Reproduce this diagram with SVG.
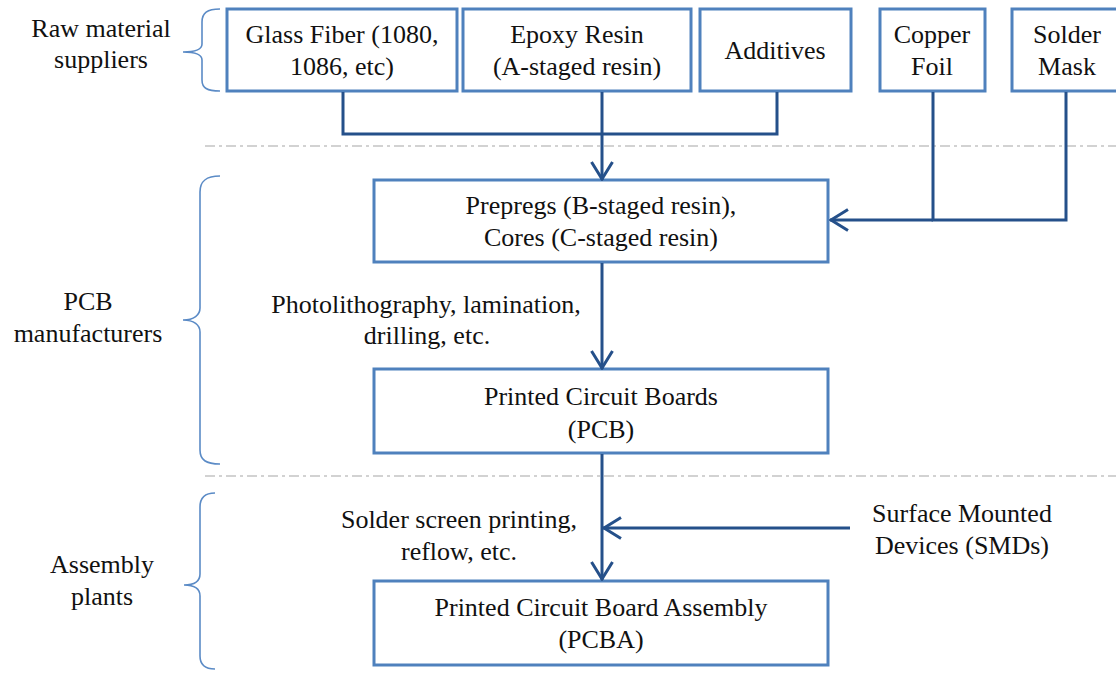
<svg xmlns="http://www.w3.org/2000/svg" width="1116" height="674" viewBox="0 0 1116 674">
  <defs>
    <style>
      .box { fill: #ffffff; stroke: #4F81BD; stroke-width: 3; }
      .lbl { font-family: "Liberation Serif", "Times New Roman", serif; font-size: 26px; fill: #111111; text-anchor: middle; }
      .con { fill: none; stroke: #25508A; stroke-width: 3; }
      .brace { fill: none; stroke: #5B8BC6; stroke-width: 1.6; }
      .sep { stroke: #C4C4C4; stroke-width: 1.5; stroke-dasharray: 10 4 3 4; }
    </style>
    <marker id="arr" viewBox="0 0 20 24" refX="19" refY="12" markerWidth="20" markerHeight="24" markerUnits="userSpaceOnUse" orient="auto">
      <path d="M1,1.5 L18,12 L1,22.5" fill="none" stroke="#25508A" stroke-width="3"/>
    </marker>
  </defs>
  <rect width="1116" height="674" fill="#ffffff"/>

  <!-- section separators -->
  <line class="sep" x1="205" y1="146" x2="1116" y2="146"/>
  <line class="sep" x1="205" y1="476" x2="1116" y2="476"/>

  <!-- stage labels with braces -->
  <g id="stage-raw">
    <text class="lbl" x="101" y="37">Raw material</text>
    <text class="lbl" x="101" y="68">suppliers</text>
    <path class="brace" d="M220,9 C207,9 202,13 202,22 L202,44 C202,49 196,52 183,52 C196,52 202,55 202,60 L202,80 C202,88 207,91 220,91"/>
  </g>
  <g id="stage-pcb">
    <text class="lbl" x="88" y="310">PCB</text>
    <text class="lbl" x="88" y="342">manufacturers</text>
    <path class="brace" d="M220,176 C206,176 200,181 200,192 L200,308 C200,315 194,320 183,320 C194,320 200,325 200,332 L200,450 C200,460 206,464 220,464"/>
  </g>
  <g id="stage-assembly">
    <text class="lbl" x="102" y="573">Assembly</text>
    <text class="lbl" x="102" y="605">plants</text>
    <path class="brace" d="M215,493 C205,493 200,497 200,507 L200,574 C200,581 195,585 184,585 C195,585 200,589 200,596 L200,656 C200,665 205,669 215,669"/>
  </g>

  <!-- raw materials -->
  <g id="glass-fiber">
    <rect class="box" x="227" y="9" width="230" height="82"/>
    <text class="lbl" x="342" y="43">Glass Fiber (1080,</text>
    <text class="lbl" x="342" y="75">1086,  etc)</text>
  </g>
  <g id="epoxy-resin">
    <rect class="box" x="463" y="9" width="228" height="82"/>
    <text class="lbl" x="577" y="43">Epoxy Resin</text>
    <text class="lbl" x="577" y="75">(A-staged resin)</text>
  </g>
  <g id="additives">
    <rect class="box" x="700" y="9" width="151" height="82"/>
    <text class="lbl" x="775" y="59">Additives</text>
  </g>
  <g id="copper-foil">
    <rect class="box" x="880" y="9" width="105" height="82"/>
    <text class="lbl" x="932" y="43">Copper</text>
    <text class="lbl" x="932" y="75">Foil</text>
  </g>
  <g id="solder-mask">
    <rect class="box" x="1012" y="9" width="110" height="82"/>
    <text class="lbl" x="1067" y="43">Solder</text>
    <text class="lbl" x="1067" y="75">Mask</text>
  </g>

  <!-- manufacturing -->
  <g id="prepregs">
    <rect class="box" x="374" y="180" width="454" height="82"/>
    <text class="lbl" x="601" y="214">Prepregs (B-staged resin),</text>
    <text class="lbl" x="601" y="246">Cores (C-staged resin)</text>
  </g>
  <g id="pcb">
    <rect class="box" x="374" y="369" width="454" height="84"/>
    <text class="lbl" x="601" y="405">Printed Circuit Boards</text>
    <text class="lbl" x="601" y="438">(PCB)</text>
  </g>
  <g id="pcba">
    <rect class="box" x="374" y="581" width="454" height="84"/>
    <text class="lbl" x="601" y="616">Printed Circuit Board Assembly</text>
    <text class="lbl" x="601" y="648">(PCBA)</text>
  </g>

  <!-- process labels -->
  <g id="label-fab">
    <text class="lbl" x="426" y="313">Photolithography, lamination,</text>
    <text class="lbl" x="427" y="344">drilling,  etc.</text>
  </g>
  <g id="label-assembly">
    <text class="lbl" x="459" y="528">Solder screen printing,</text>
    <text class="lbl" x="459" y="560">reflow,  etc.</text>
  </g>
  <g id="smd">
    <text class="lbl" x="962" y="522">Surface Mounted</text>
    <text class="lbl" x="962" y="554">Devices (SMDs)</text>
  </g>

  <!-- connectors -->
  <g id="connectors">
    <polyline class="con" points="343,92 343,134 777,134 777,92"/>
    <line class="con" x1="602" y1="92" x2="602" y2="180" marker-end="url(#arr)"/>
    <polyline class="con" points="933,92 933,220 1066,220 1066,92"/>
    <line class="con" x1="933" y1="220" x2="830" y2="220" marker-end="url(#arr)"/>
    <line class="con" x1="602" y1="263" x2="602" y2="369" marker-end="url(#arr)"/>
    <line class="con" x1="602" y1="454" x2="602" y2="580" marker-end="url(#arr)"/>
    <line class="con" x1="850" y1="528" x2="603" y2="528" marker-end="url(#arr)"/>
  </g>
</svg>
